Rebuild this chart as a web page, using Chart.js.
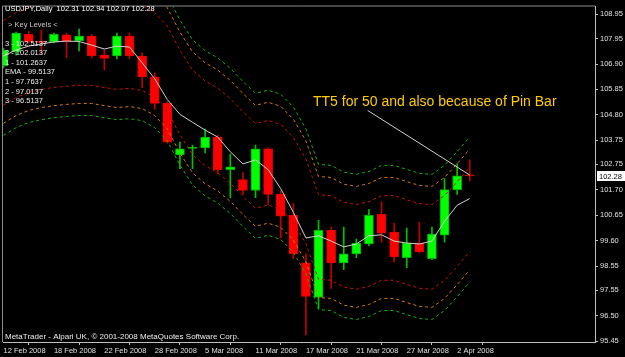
<!DOCTYPE html>
<html>
<head>
<meta charset="utf-8">
<script src="https://cdn.jsdelivr.net/npm/chart.js@4.4.1/dist/chart.umd.min.js"></script>
<style>
  html, body { margin: 0; padding: 0; background: #000; }
  #wrap { width: 625px; height: 357px; }
</style>
</head>
<body>
<div id="wrap"><canvas id="usdjpy_chart" width="625" height="357"></canvas></div>
<script>
"use strict";

// USDJPY daily bars, 12 Feb 2008 - 3 Apr 2008
const dates = [
  '12 Feb 2008', '13 Feb 2008', '14 Feb 2008', '15 Feb 2008', '18 Feb 2008', '19 Feb 2008', '20 Feb 2008',
  '21 Feb 2008', '22 Feb 2008', '25 Feb 2008', '26 Feb 2008', '27 Feb 2008', '28 Feb 2008', '29 Feb 2008',
  '3 Mar 2008', '4 Mar 2008', '5 Mar 2008', '6 Mar 2008', '7 Mar 2008', '10 Mar 2008', '11 Mar 2008',
  '12 Mar 2008', '13 Mar 2008', '14 Mar 2008', '17 Mar 2008', '18 Mar 2008', '19 Mar 2008', '20 Mar 2008',
  '21 Mar 2008', '24 Mar 2008', '25 Mar 2008', '26 Mar 2008', '27 Mar 2008', '28 Mar 2008', '31 Mar 2008',
  '1 Apr 2008', '2 Apr 2008', '3 Apr 2008'
];
const opens = [106.83, 107.40, 108.13, 107.85, 107.81, 108.11, 107.85, 108.05, 107.27, 107.23, 108.05, 107.23, 106.37,
  105.27, 103.14, 103.41, 103.43, 103.88, 102.53, 102.12, 101.67, 103.39, 101.51, 100.65, 98.68, 97.25, 100.03,
  98.68, 99.05, 99.46, 100.69, 99.95, 98.89, 99.50, 98.85, 99.83, 101.71, 102.31];
const highs = [107.56, 108.22, 108.26, 108.30, 108.18, 108.18, 108.34, 108.13, 107.48, 108.18, 108.18, 107.36, 106.54,
  105.35, 103.67, 103.55, 104.21, 103.96, 103.18, 102.41, 103.55, 103.43, 101.67, 101.14, 99.05, 100.44, 100.16,
  100.16, 99.66, 100.89, 101.20, 100.32, 100.12, 100.36, 100.16, 102.16, 102.77, 102.94];
const lows = [106.74, 107.27, 107.77, 107.31, 107.77, 107.15, 107.44, 107.15, 106.66, 107.11, 107.11, 105.92, 105.02,
  103.63, 102.57, 102.57, 103.22, 102.37, 101.38, 101.51, 101.38, 101.10, 99.71, 98.85, 95.70, 96.80, 97.62,
  98.40, 98.89, 99.38, 99.54, 98.72, 98.48, 99.09, 98.81, 99.54, 101.51, 102.07];
const closes = [107.48, 108.18, 107.81, 107.79, 108.13, 107.81, 108.05, 107.23, 107.13, 108.05, 107.23, 106.37, 105.27,
  103.67, 103.39, 103.45, 103.88, 102.53, 102.65, 101.67, 103.39, 101.51, 100.61, 99.05, 97.29, 100.03, 98.68,
  99.05, 99.50, 100.65, 99.91, 98.93, 99.50, 99.13, 99.87, 101.71, 102.28, 102.28];

const ema = [107.23, 107.48, 107.64, 107.73, 107.81, 107.85, 107.83, 107.68, 107.52, 107.64, 107.60, 106.95, 106.29,
  105.43, 104.82, 104.49, 104.17, 103.88, 103.27, 102.77, 102.94, 102.53, 101.75, 100.77, 99.71, 99.80, 99.58,
  99.34, 99.46, 99.80, 99.84, 99.58, 99.50, 99.46, 99.58, 100.40, 101.06, 101.34];

// channel lines
const upper3 = [109.95, 110.27, 110.48, 110.60, 110.68, 110.73, 110.77, 110.77, 110.68, 110.60, 110.64, 110.56, 110.27,
  109.72, 108.72, 107.90, 107.45, 107.15, 106.72, 106.18, 105.69, 105.82, 105.65, 105.12, 104.22, 102.75, 102.71,
  102.43, 102.34, 102.46, 102.71, 102.71, 102.54, 102.38, 102.34, 102.71, 103.28, 103.89];
const upper2 = [109.45, 109.77, 109.98, 110.10, 110.18, 110.23, 110.27, 110.27, 110.18, 110.10, 110.14, 110.06, 109.77,
  109.22, 108.22, 107.40, 106.95, 106.65, 106.22, 105.68, 105.19, 105.32, 105.15, 104.62, 103.72, 102.25, 102.21,
  101.93, 101.84, 101.96, 102.21, 102.21, 102.04, 101.88, 101.84, 102.21, 102.78, 103.39];
const upper1 = [108.70, 109.02, 109.23, 109.35, 109.43, 109.48, 109.52, 109.52, 109.43, 109.35, 109.39, 109.31, 109.02,
  108.47, 107.47, 106.65, 106.20, 105.90, 105.47, 104.93, 104.44, 104.57, 104.40, 103.87, 102.97, 101.50, 101.46,
  101.18, 101.09, 101.21, 101.46, 101.46, 101.29, 101.13, 101.09, 101.46, 102.03, 102.64];
const lower1 = [105.20, 105.52, 105.73, 105.85, 105.93, 105.98, 106.02, 106.02, 105.93, 105.85, 105.89, 105.81, 105.52,
  104.97, 103.97, 103.15, 102.70, 102.40, 101.97, 101.43, 100.94, 101.07, 100.90, 100.37, 99.47, 98.00, 97.96,
  97.68, 97.59, 97.71, 97.96, 97.96, 97.79, 97.63, 97.59, 97.96, 98.53, 99.14];
const lower2 = [104.45, 104.77, 104.98, 105.10, 105.18, 105.23, 105.27, 105.27, 105.18, 105.10, 105.14, 105.06, 104.77,
  104.22, 103.22, 102.40, 101.95, 101.65, 101.22, 100.68, 100.19, 100.32, 100.15, 99.62, 98.72, 97.25, 97.21,
  96.93, 96.84, 96.96, 97.21, 97.21, 97.04, 96.88, 96.84, 97.21, 97.78, 98.39];
const lower3 = [103.95, 104.27, 104.48, 104.60, 104.68, 104.73, 104.77, 104.77, 104.68, 104.60, 104.64, 104.56, 104.27,
  103.72, 102.72, 101.90, 101.45, 101.15, 100.72, 100.18, 99.69, 99.82, 99.65, 99.12, 98.22, 96.75, 96.71,
  96.43, 96.34, 96.46, 96.71, 96.71, 96.54, 96.38, 96.34, 96.71, 97.28, 97.89];

const priceTicks = [108.95, 107.95, 106.90, 105.85, 104.80, 103.75, 102.75, 101.70, 100.65, 99.60, 98.55, 97.55, 96.50, 95.45];

const keyNames = ['3', '2', '1', 'EMA', '1', '2', '3'];
const keyValues = [102.5137, 102.0137, 101.2637, 99.5137, 97.7637, 97.0137, 96.5137];

// trendline drawn on the chart (bar index, price)
const trendBars = [28.9, 37];
const trendPrices = [104.98, 102.31];
const noteText = 'TT5 for 50 and also because of Pin Bar';

const idx = dates.map((d, i) => i);
const isBull = closes.map((c, i) => c >= opens[i]);
const pts = arr => idx.map(i => ({ x: i, y: arr[i] }));

const FONT = '"Liberation Sans", Arial, sans-serif';

function bandSet(arr, color) {
  return {
    type: 'line',
    data: pts(arr),
    borderColor: color,
    borderWidth: 1,
    borderDash: [3, 3],
    pointRadius: 0,
    tension: 0,
    order: 0
  };
}

const overlay = {
  id: 'overlay',
  beforeDraw(chart) {
    const ctx = chart.ctx;
    ctx.save();
    ctx.fillStyle = '#000000';
    ctx.fillRect(0, 0, chart.width, chart.height);
    ctx.restore();
  },
  afterDraw(chart) {
    const ctx = chart.ctx;
    const a = chart.chartArea;
    const xs = chart.scales.x, ys = chart.scales.y;
    const last = closes.length - 1;
    ctx.save();

    // frame top / left
    ctx.strokeStyle = '#8c8c8c';
    ctx.lineWidth = 1;
    ctx.beginPath();
    ctx.moveTo(a.left - 0.5, a.bottom);
    ctx.lineTo(a.left - 0.5, a.top - 0.5);
    ctx.lineTo(a.right, a.top - 0.5);
    ctx.stroke();

    ctx.textBaseline = 'middle';
    ctx.textAlign = 'left';
    ctx.font = '7.5px ' + FONT;
    ctx.fillStyle = '#ffffff';
    ctx.fillText('USDJPY,Daily  ' + [opens[last], highs[last], lows[last], closes[last]].map(v => v.toFixed(2)).join(' '), 5, 9);

    ctx.fillStyle = '#c8c8c8';
    ctx.fillText('> Key Levels <', 8, 25);
    ctx.fillStyle = '#ececec';
    keyNames.forEach((n, k) => {
      ctx.fillText(n + ' - ' + keyValues[k].toFixed(4), 5, 43.5 + k * 9.6);
    });

    ctx.font = '8px ' + FONT;
    ctx.fillText('MetaTrader - Alpari UK, \u00a9 2001-2008 MetaQuotes Software Corp.', 5, 337);

    // note
    ctx.font = '14px ' + FONT;
    ctx.fillStyle = '#ffcc00';
    ctx.textBaseline = 'alphabetic';
    ctx.fillText(noteText, xs.getPixelForValue(24.56), ys.getPixelForValue(105.15));

    // current price box
    const py = Math.round(ys.getPixelForValue(closes[last]));
    ctx.fillStyle = '#ffffff';
    ctx.fillRect(a.right + 2, py - 5, 28, 10);
    ctx.fillStyle = '#000000';
    ctx.font = '7.5px ' + FONT;
    ctx.textBaseline = 'middle';
    ctx.fillText(closes[last].toFixed(2), a.right + 4, py + 0.5);
    ctx.restore();
  }
};

const chart = new Chart(document.getElementById('usdjpy_chart').getContext('2d'), {
  type: 'bar',
  data: {
    datasets: [
      {
        type: 'line',
        data: trendBars.map((b, k) => ({ x: b, y: trendPrices[k] })),
        borderColor: '#d0d0d0',
        borderWidth: 1,
        pointRadius: 0,
        order: 0
      },
      {
        type: 'line',
        data: pts(ema),
        borderColor: '#d0d0d0',
        borderWidth: 1,
        pointRadius: 0,
        tension: 0,
        order: 0
      },
      bandSet(upper3, '#12b012'),
      bandSet(upper2, '#d27a0a'),
      bandSet(upper1, '#c41010'),
      bandSet(lower1, '#c41010'),
      bandSet(lower2, '#d27a0a'),
      bandSet(lower3, '#12b012'),
      {
        // candle bodies
        data: idx.map(i => ({ x: i, y: [opens[i], closes[i]] })),
        backgroundColor: isBull.map(b => b ? '#00ff00' : '#ff0000'),
        borderColor: isBull.map(b => b ? '#00b000' : '#e00000'),
        borderWidth: 1,
        borderSkipped: false,
        barThickness: 9,
        minBarLength: 1,
        grouped: false,
        order: 1
      },
      {
        // wicks
        data: idx.map(i => ({ x: i, y: [lows[i], highs[i]] })),
        backgroundColor: isBull.map(b => b ? '#00c000' : '#c00000'),
        borderWidth: 0,
        barThickness: 1,
        grouped: false,
        order: 2
      }
    ]
  },
  options: {
    responsive: false,
    animation: false,
    devicePixelRatio: 1,
    layout: { padding: { top: 3, left: 3, right: 0, bottom: 0 } },
    plugins: {
      legend: { display: false },
      tooltip: { enabled: false }
    },
    scales: {
      x: {
        type: 'linear',
        offset: false,
        min: -0.04,
        max: 46.94,
        afterBuildTicks: s => { s.ticks = idx.filter(i => i % 4 === 0).map(i => ({ value: i })); },
        afterFit: s => { s.height = 15; },
        ticks: {
          autoSkip: false,
          maxRotation: 0,
          align: 'start',
          padding: 1,
          color: '#e0e0e0',
          font: { family: FONT, size: 7.5 },
          callback: v => dates[v]
        },
        grid: { drawOnChartArea: false, drawTicks: true, tickLength: 3, tickColor: '#c0c0c0' },
        border: { display: true, color: '#c0c0c0' }
      },
      y: {
        position: 'right',
        min: 95.409,
        max: 109.277,
        afterBuildTicks: s => { s.ticks = priceTicks.map(v => ({ value: v })); },
        afterFit: s => { s.width = 30; },
        ticks: {
          padding: 2,
          color: '#e0e0e0',
          font: { family: FONT, size: 7.5 },
          callback: v => v.toFixed(2)
        },
        grid: { drawOnChartArea: false, drawTicks: true, tickLength: 3, tickColor: '#c0c0c0' },
        border: { display: true, color: '#c0c0c0' }
      }
    }
  },
  plugins: [overlay]
});
</script>
</body>
</html>
